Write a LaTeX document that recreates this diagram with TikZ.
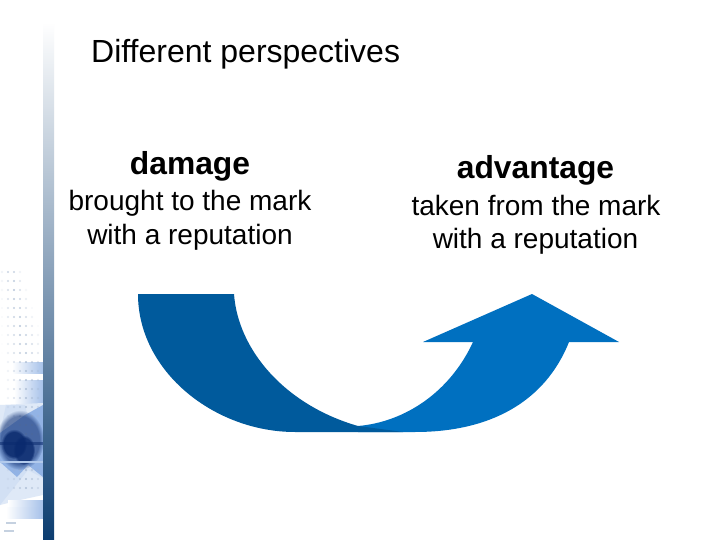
\documentclass[tikz,border=0pt]{standalone}
\usepackage{fontspec}
\usetikzlibrary{fadings}
\setmainfont[Ligatures=NoCommon]{Liberation Sans}
\definecolor{darkarrow}{HTML}{005A9C}
\definecolor{lightarrow}{HTML}{0070C0}
\definecolor{barblue}{HTML}{8CA5C0}
\definecolor{barnavy}{HTML}{0C3D70}
\definecolor{starblue}{HTML}{7FA6E0}
\definecolor{dotblue}{HTML}{9FB2CC}
\definecolor{blobblue}{HTML}{0A2A6E}
\tikzset{
	titletext/.style={font=\fontsize{32}{38}\selectfont,anchor=base west,inner sep=0pt},
	headtext/.style={font=\fontsize{31.8}{38}\selectfont\bfseries,anchor=base,inner sep=0pt},
	subtext/.style={font=\fontsize{28}{34}\selectfont,anchor=base,inner sep=0pt},
	bandfill/.style={left color=white,right color=starblue!70},
	blobfill/.style={fill=blobblue,path fading=circle with fuzzy edge 20 percent},
}
\begin{document}
\begin{tikzpicture}[x=1pt,y=-1pt]
	\useasboundingbox (0,0) rectangle (720,540);
	\fill[white] (0,0) rectangle (720,540);

	% left strip
	\begin{scope}
		\clip (0,262) rectangle (43,540);
		\shade[bandfill] (12,362) rectangle (43,373);
		\shade[bandfill] (14,380) rectangle (43,403);
		\fill[starblue!25] (0,405) -- (43,403) -- (43,495) -- (20,500) -- (0,505) -- cycle;
		\fill[starblue!35] (6,405) -- (25,405) -- (43,478) -- (28,470) -- (0,505) -- (0,433) -- cycle;
		\fill[starblue!85] (43,405) -- (25,415) -- (0,433) -- (0,462) -- (17,477) -- (28,465) -- (43,477) -- cycle;
		\foreach \r in {0,...,24}
		{
			\foreach \c in {0,...,6}
			{
				\pgfmathsetmacro{\dotop}{max(0,1-abs(\c-1.5-0.25*min(\r,10))/(2+0.2*min(\r,10)))*0.75}
				\fill[dotblue,opacity=\dotop] (2+6*\c,272+9*\r) circle (1.2);
			}
		}
		\fill[blobfill,opacity=0.55] (20,440) ellipse (24 and 30);
		\fill[blobfill,opacity=0.85] (14,444) ellipse (13 and 15);
		\fill[blobfill,opacity=0.8] (24,450) ellipse (11 and 15);
		\fill[blobblue,opacity=0.55] (0,442) rectangle (43,445);
		\fill[starblue!60] (0,461) rectangle (43,463);
		\shade[bandfill] (8,500) rectangle (43,506);
		\shade[bandfill] (6,507) rectangle (43,518);
		\fill[dotblue!60] (6,522) rectangle (16,524);
		\fill[dotblue!60] (4,530) rectangle (14,532);
	\end{scope}
	\shade[top color=white,middle color=barblue,bottom color=barnavy] (43,22) rectangle (54,540);

	% texts
	\node[titletext] (title) at (91,63) {Different perspectives};
	\node[headtext] (damage) at (190,175) {damage};
	\node[subtext] (broughttext) at (190,211) {brought to the mark};
	\node[subtext] (withleft) at (190,244) {with a reputation};
	\node[headtext] (advantage) at (535.5,179) {advantage};
	\node[subtext] (takentext) at (536,215) {taken from the mark};
	\node[subtext] (withright) at (535.5,248) {with a reputation};

	% the two arrows
	\fill[lightarrow] (358,426) .. controls (405,422) and (450,392) .. (473,342) -- (423,342) -- (532,294) -- (619,342) -- (569,342)
		.. controls (545,402) and (490,432) .. (415,432) -- (358,432) -- cycle;
	\fill[darkarrow] (138,294) -- (234,294) .. controls (238,350) and (285,405) .. (358,426) -- (403,432) -- (295,432)
		.. controls (215,432) and (138,372) .. (138,294) -- cycle;
\end{tikzpicture}
\end{document}
